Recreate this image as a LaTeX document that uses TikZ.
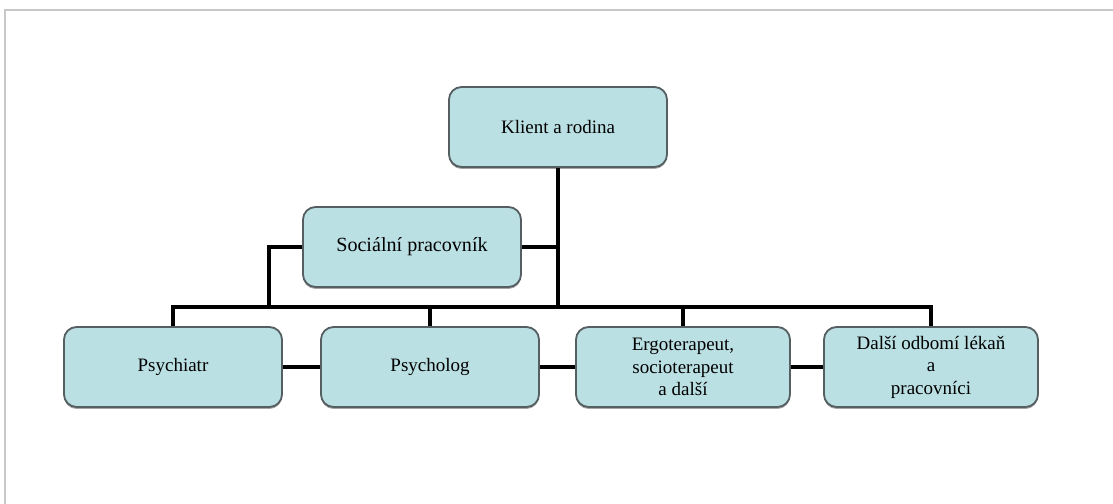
\documentclass[tikz,border=0pt]{standalone}
\usepackage{fontspec}
\setmainfont{Liberation Serif}
\usepackage{xcolor}
\usepackage{tikz}
\usetikzlibrary{shadows}
\definecolor{boxfill}{RGB}{187, 224, 227}
\definecolor{boxline}{RGB}{85, 95, 98}
\definecolor{pageedge}{RGB}{200, 200, 200}

\begin{document}
\begin{tikzpicture}[
    x=0.025cm, y=-0.025cm,
    box/.style={rectangle, rounded corners=9pt, draw=boxline, line width=1.3pt, fill=boxfill,
        minimum width=5.45cm, minimum height=2cm, align=center,
        font=\rmfamily\fontsize{13.5}{16}\selectfont,
        drop shadow={shadow xshift=0pt, shadow yshift=-1.4pt, opacity=0.5, fill=black!70}},
    bus/.style={line width=3.2pt, black},
    link/.style={line width=2.5pt, black}
]
    \useasboundingbox (0,0) rectangle (1113,504);
    % page edge
    \draw[pageedge, line width=1.6pt] (5,504) -- (5,10) -- (1113,10);

    \node[box] (klient) at (558,127) {Klient a rodina};
    \node[box, font=\rmfamily\fontsize{14.3}{16}\selectfont] (social) at (412,247) {Sociální pracovník};
    \node[box] (psychiatr) at (173,367) {Psychiatr};
    \node[box] (psycholog) at (430,367) {Psycholog};
    \node[box, minimum width=5.35cm] (ergo) at (683,367) {Ergoterapeut,\\ socioterapeut\\ a další};
    \node[box, minimum width=5.35cm] (dalsi) at (931,367) {Další odbomí lékaň\\ a\\ pracovníci};

    \coordinate (hub) at (558,307);
    \coordinate (socdrop) at (269,307);

    \draw[bus] (klient) -- (hub);
    \draw[bus] (psychiatr.north) |- (hub) -| (dalsi.north);
    \draw[bus] (psycholog.north) -- (psycholog.north |- hub);
    \draw[bus] (ergo.north) -- (ergo.north |- hub);
    \draw[link] (social.east) -- (social.east -| hub);
    \draw[link] (social.west) -| (socdrop);

    \draw[link] (psychiatr) -- (psycholog);
    \draw[link] (psycholog) -- (ergo);
    \draw[link] (ergo) -- (dalsi);
\end{tikzpicture}
\end{document}
